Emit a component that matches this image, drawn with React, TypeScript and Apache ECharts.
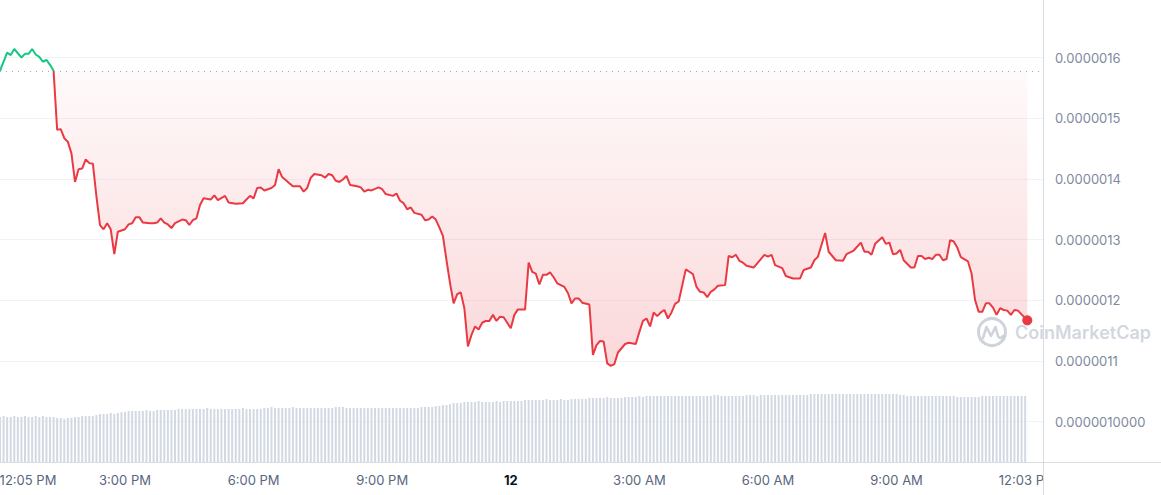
import React, { useEffect, useRef } from "react";
import * as echarts from "echarts";

// Session opens 12:05 PM on the 11th (UTC used for formatting)
const OPEN_TIME = Date.UTC(2024, 4, 11, 12, 5);
const PRICE_UNIT = 1e-7; // prices below are in units of 0.0000001
const X_AXIS_END_MIN = 1460;

// [minutes after open, price in PRICE_UNIT]
const PRICE_POINTS: [number, number][] = [
  [0, 15.78], [10, 16.08], [15, 16.04], [20, 16.14], [25, 16.07], [30, 16.0], [35, 16.06], [40, 16.06],
  [45, 16.14], [50, 16.05], [55, 16.01], [60, 15.93], [65, 15.96], [70, 15.88], [75, 15.78], [80, 14.81],
  [85, 14.82], [90, 14.67], [95, 14.61], [100, 14.42], [105, 13.95], [110, 14.16], [115, 14.17], [120, 14.32],
  [125, 14.26], [130, 14.25], [135, 13.71], [140, 13.24], [145, 13.17], [150, 13.27], [155, 13.17], [160, 12.76],
  [165, 13.13], [175, 13.17], [180, 13.25], [185, 13.27], [190, 13.37], [195, 13.37], [200, 13.28], [210, 13.27],
  [215, 13.27], [220, 13.28], [225, 13.35], [230, 13.28], [235, 13.25], [240, 13.19], [245, 13.27], [255, 13.33],
  [260, 13.32], [265, 13.24], [270, 13.32], [275, 13.35], [280, 13.57], [285, 13.68], [295, 13.66], [300, 13.73],
  [305, 13.65], [315, 13.72], [320, 13.61], [330, 13.59], [340, 13.6], [345, 13.66], [350, 13.72], [355, 13.68],
  [360, 13.85], [365, 13.86], [370, 13.81], [380, 13.85], [385, 13.9], [390, 14.16], [395, 14.03], [405, 13.93],
  [410, 13.88], [420, 13.88], [425, 13.79], [430, 13.85], [435, 14.02], [440, 14.08], [450, 14.06], [455, 14.02],
  [460, 14.08], [465, 14.06], [470, 13.97], [475, 13.95], [480, 13.99], [485, 14.05], [490, 13.9], [500, 13.88],
  [505, 13.86], [510, 13.79], [515, 13.82], [520, 13.81], [530, 13.86], [535, 13.83], [540, 13.75], [550, 13.72],
  [555, 13.76], [560, 13.64], [565, 13.6], [570, 13.5], [575, 13.53], [580, 13.44], [590, 13.41], [595, 13.32],
  [600, 13.33], [605, 13.38], [610, 13.33], [615, 13.2], [620, 13.06], [625, 12.66], [630, 12.28], [635, 11.95],
  [640, 12.1], [645, 12.13], [650, 11.87], [655, 11.24], [660, 11.43], [665, 11.57], [670, 11.52], [675, 11.63],
  [680, 11.66], [685, 11.66], [690, 11.76], [695, 11.66], [700, 11.73], [705, 11.72], [715, 11.54], [720, 11.76],
  [725, 11.85], [735, 11.85], [740, 12.62], [745, 12.47], [750, 12.44], [755, 12.26], [760, 12.42], [765, 12.42],
  [770, 12.46], [775, 12.38], [780, 12.28], [790, 12.22], [795, 12.12], [800, 11.95], [805, 12.03], [810, 12.03],
  [815, 11.96], [825, 11.93], [830, 11.1], [835, 11.26], [840, 11.33], [845, 11.32], [850, 10.96], [855, 10.92],
  [860, 10.95], [865, 11.14], [875, 11.28], [880, 11.3], [890, 11.28], [895, 11.48], [900, 11.66], [905, 11.7],
  [910, 11.57], [915, 11.8], [920, 11.74], [925, 11.8], [930, 11.84], [935, 11.7], [940, 11.8], [945, 11.94],
  [950, 11.98], [960, 12.51], [965, 12.47], [970, 12.43], [975, 12.22], [980, 12.14], [985, 12.13], [990, 12.05],
  [995, 12.14], [1000, 12.18], [1005, 12.24], [1015, 12.25], [1020, 12.73], [1025, 12.71], [1030, 12.75], [1035, 12.65],
  [1040, 12.62], [1045, 12.57], [1055, 12.54], [1065, 12.68], [1070, 12.75], [1075, 12.72], [1080, 12.75], [1085, 12.58],
  [1095, 12.53], [1100, 12.4], [1110, 12.36], [1120, 12.36], [1125, 12.5], [1135, 12.54], [1140, 12.66], [1145, 12.72],
  [1155, 13.11], [1160, 12.8], [1165, 12.73], [1170, 12.66], [1180, 12.65], [1185, 12.76], [1195, 12.82], [1205, 12.95],
  [1210, 12.8], [1215, 12.8], [1220, 12.75], [1225, 12.93], [1235, 13.04], [1240, 12.93], [1245, 12.95], [1250, 12.76],
  [1255, 12.77], [1260, 12.83], [1265, 12.66], [1275, 12.54], [1280, 12.54], [1285, 12.73], [1290, 12.73], [1295, 12.68],
  [1300, 12.7], [1305, 12.68], [1310, 12.75], [1315, 12.75], [1320, 12.66], [1325, 12.68], [1330, 12.99], [1335, 12.97],
  [1340, 12.87], [1345, 12.71], [1355, 12.64], [1360, 12.44], [1365, 12.0], [1370, 11.81], [1375, 11.81], [1380, 11.95],
  [1385, 11.95], [1390, 11.88], [1395, 11.76], [1400, 11.87], [1405, 11.84], [1410, 11.83], [1415, 11.76], [1420, 11.84],
  [1425, 11.83], [1438, 11.67],
];

// 5-minute volume bars (relative units)
const VOLUME_STEP_MIN = 5;
const VOLUMES: number[] = [
  45, 46, 45, 45, 46, 45, 45, 46, 45, 45, 46, 45, 46, 45, 45, 45,
  44, 44, 43, 44, 44,
  45, 45, 46, 46, 46, 46,
  47, 48, 48, 48, 49, 48, 49,
  50, 50, 51, 51, 51, 51, 51, 52, 51, 51, 52, 52, 52, 52, 52,
  52, 53, 53, 53, 53, 53, 53, 53, 53, 54, 53, 53, 53, 53, 53, 53, 53, 53, 53, 54, 53, 53, 53, 53, 53,
  54, 54, 55, 54, 54, 54, 54, 54, 55, 54, 54, 54, 54, 54, 54, 54, 54, 54, 54, 54, 55, 55, 55, 54,
  54, 54, 54, 54, 54, 54, 54, 54, 54, 54, 54, 54, 54, 54, 54, 54, 54, 54, 54, 54, 55, 55, 55, 55,
  56, 56, 57, 57, 58, 59, 59,
  59, 60, 60, 60, 60, 61, 60, 60, 60, 60, 61, 60, 61, 61,
  61, 61, 61, 61, 62, 62,
  62, 62, 62, 62, 63, 62, 62, 62, 63, 62, 62, 63, 63, 63, 63, 63,
  64, 64, 64, 64, 64, 65, 64, 64, 64, 64, 65, 65, 65, 65,
  66, 65, 66, 66, 66, 66, 66, 66, 66, 66, 66, 66, 66, 66, 66, 66, 66,
  66, 66, 66, 66, 67, 67, 66, 66, 66, 66, 66, 66, 66, 67, 67, 67, 66,
  67, 67, 67, 67, 67, 67, 67, 67, 67, 67, 67, 67, 67, 67, 68, 68, 68,
  68, 68, 68, 68, 68, 68, 68, 68, 68, 68, 68, 68, 68, 68, 68, 68, 68, 68, 68, 68, 68, 68,
  67, 67, 66, 66, 66, 66, 66, 66, 66, 66, 66, 66, 66, 66, 66, 66, 65,
  65, 65, 65, 65, 65, 65, 66, 66, 66, 66, 66,
  66, 66, 66, 66, 66, 66, 66, 66,
];

// x labels (minutes after open): 12:05 PM, 3:00 PM, 6:00 PM, 9:00 PM, 12 (day), 3:00 AM, 6:00 AM, 9:00 AM, 12:03 PM
const X_LABEL_MINUTES = [0, 175, 355, 535, 715, 895, 1075, 1255, 1438];

const GREEN = "#16c784";
const RED = "#ea3943";
const CHART_H = 495;

function timeLabel(minutes: number): string {
  const d = new Date(OPEN_TIME + minutes * 60000);
  const h = d.getUTCHours();
  const m = d.getUTCMinutes();
  if (h === 0 && m === 0) return `{day|${d.getUTCDate()}}`;
  const h12 = h % 12 === 0 ? 12 : h % 12;
  return `${h12}:${m < 10 ? "0" + m : m} ${h < 12 ? "AM" : "PM"}`;
}

function priceLabel(v: number): string {
  if (v === 9 || v === 17) return "";
  if (v === 10) return (v * PRICE_UNIT).toFixed(10);
  return (v * PRICE_UNIT).toFixed(7);
}

export default function App() {
  const ref = useRef<HTMLDivElement>(null);

  useEffect(() => {
    if (!ref.current) return;
    const chart = echarts.init(ref.current, null, { renderer: "svg" });

    const priceData = PRICE_POINTS.map(([m, v]) => [m, v]);
    const open = PRICE_POINTS[0][1];
    const last = priceData[priceData.length - 1];
    const low = Math.min(...PRICE_POINTS.map((p) => p[1]));
    const volData = VOLUMES.map((v, i) => [i * VOLUME_STEP_MIN, v]);
    const minuteCategories: string[] = [];
    for (let i = 0; i <= X_AXIS_END_MIN; i++) minuteCategories.push(String(i));

    echarts.graphic.registerShape(
      "cmcMark",
      echarts.graphic.extendPath("M-8 6 L-4.5 -5 L0 4 L4.5 -5 L7 4 Q9 8 12 4", {})
    );

    const gridLineColors = ["rgba(0,0,0,0)", "#f1f3f6", "#f1f3f6", "#f1f3f6", "#f1f3f6", "#f1f3f6", "#f1f3f6", "#f1f3f6", "#f1f3f6"];

    const option: any = {
      animation: false,
      backgroundColor: "#ffffff",
      textStyle: { fontFamily: "Inter, 'Noto Sans', sans-serif" },
      grid: [
        { left: 0, right: 118, top: -3.2, bottom: 12.6, containLabel: false, outerBoundsMode: "none" },
        { left: 0, right: 118, top: 362, bottom: 33, containLabel: false, outerBoundsMode: "none" },
      ],
      xAxis: [
        { type: "value", gridIndex: 0, min: 0, max: X_AXIS_END_MIN, show: false },
        { type: "value", gridIndex: 1, min: 0, max: X_AXIS_END_MIN, show: false, position: "bottom" },
        {
          type: "category",
          gridIndex: 1,
          position: "bottom",
          boundaryGap: false,
          data: minuteCategories,
          axisLine: { show: false },
          axisTick: { show: false },
          splitLine: { show: false },
          axisLabel: {
            interval: (idx: number) => X_LABEL_MINUTES.indexOf(idx) >= 0,
            formatter: (_v: string, idx: number) =>
              idx === 0 ? `{pad|}{t|${timeLabel(idx)}}` : timeLabel(idx),
            margin: 11,
            color: "#58667e",
            fontSize: 13,
            rich: {
              day: { fontWeight: "bold", color: "#0d1421", fontSize: 13 },
              pad: { width: 56 },
              t: { color: "#58667e", fontSize: 13 },
            },
          },
        },
      ],
      yAxis: [
        {
          type: "value",
          gridIndex: 0,
          position: "right",
          min: 9,
          max: 17,
          interval: 1,
          axisLine: { show: false },
          axisTick: { show: false },
          splitLine: { show: true, lineStyle: { color: gridLineColors, width: 1 } },
          axisLabel: { formatter: priceLabel, color: "#808a9d", fontSize: 13, margin: 12 },
        },
        { type: "value", gridIndex: 1, min: 0, max: 100, show: false },
      ],
      series: [
        {
          id: "price",
          type: "line",
          xAxisIndex: 0,
          yAxisIndex: 0,
          data: priceData,
          showSymbol: false,
          symbol: "none",
          lineStyle: { width: 2, color: RED },
          areaStyle: { origin: open, color: "rgba(234,57,67,0.1)" },
          markLine: {
            silent: true,
            symbol: ["none", "none"],
            data: [
              {
                yAxis: open,
                lineStyle: { color: "#a1a7b3", type: [1, 5], width: 1 },
                label: { show: false },
              },
              {
                yAxis: last[1],
                lineStyle: { opacity: 0 },
                label: {
                  show: true,
                  position: "end",
                  distance: 1,
                  formatter: (last[1] * PRICE_UNIT).toFixed(7),
                  backgroundColor: RED,
                  color: "#ffffff",
                  fontSize: 13,
                  lineHeight: 13,
                  padding: [3, 14, 2, 11],
                },
              },
            ],
          },
          markPoint: {
            silent: true,
            data: [
              {
                coord: last,
                symbol: "circle",
                symbolSize: 10,
                itemStyle: { color: RED },
                label: { show: false },
              },
            ],
          },
          z: 3,
        },
        {
          type: "bar",
          xAxisIndex: 1,
          yAxisIndex: 1,
          data: volData,
          barWidth: 2,
          itemStyle: { color: "#d3d9e3" },
          silent: true,
        },
      ],
      graphic: [
        {
          type: "rect",
          z: 90,
          shape: { x: 1044, y: 463, width: 117, height: 32 },
          style: { fill: "#ffffff" },
        },
        {
          type: "line",
          z: 91,
          shape: { x1: 1043.5, y1: 0, x2: 1043.5, y2: 495 },
          style: { stroke: "#d9dde3", lineWidth: 1 },
        },
        {
          type: "line",
          z: 91,
          shape: { x1: 0, y1: 462.5, x2: 1161, y2: 462.5 },
          style: { stroke: "#d9dde3", lineWidth: 1 },
        },
        {
          type: "circle",
          z: 95,
          shape: { cx: 992, cy: 332, r: 13.5 },
          style: { fill: "none", stroke: "rgba(180,188,202,0.65)", lineWidth: 3 },
        },
        {
          type: "cmcMark",
          z: 95,
          x: 991,
          y: 332,
          style: { fill: "none", stroke: "rgba(180,188,202,0.65)", lineWidth: 2.6, lineJoin: "round", lineCap: "round" },
        },
        {
          type: "text",
          z: 95,
          x: 1015,
          y: 332,
          style: {
            text: "CoinMarketCap",
            fill: "rgba(180,188,202,0.6)",
            font: "600 18px Inter, 'Noto Sans', sans-serif",
            verticalAlign: "middle",
          },
        },
      ],
    };

    chart.setOption(option);

    // Colour split at the opening price, located through the chart's own y scale
    const yOpen = chart.convertToPixel({ yAxisIndex: 0 }, open) as number;
    const yLow = chart.convertToPixel({ yAxisIndex: 0 }, low) as number;
    const f = Math.max(0, Math.min(1, yOpen / CHART_H));
    const lineGrad = new echarts.graphic.LinearGradient(
      0, 0, 0, CHART_H,
      [
        { offset: 0, color: GREEN },
        { offset: f, color: GREEN },
        { offset: f, color: RED },
        { offset: 1, color: RED },
      ],
      true
    );
    const fl = Math.max(f, Math.min(1, yLow / CHART_H));
    const areaGrad = new echarts.graphic.LinearGradient(
      0, 0, 0, CHART_H,
      [
        { offset: 0, color: "rgba(234,57,67,0)" },
        { offset: f, color: "rgba(234,57,67,0)" },
        { offset: f, color: "rgba(234,57,67,0.04)" },
        { offset: fl, color: "rgba(234,57,67,0.28)" },
        { offset: 1, color: "rgba(234,57,67,0.28)" },
      ],
      true
    );
    chart.setOption({
      series: [{ id: "price", lineStyle: { color: lineGrad }, areaStyle: { color: areaGrad } }],
    });

    return () => chart.dispose();
  }, []);

  return (
    <div
      ref={ref}
      style={{ position: "fixed", left: 0, top: 0, width: 1161, height: 495, background: "#fff" }}
    />
  );
}
